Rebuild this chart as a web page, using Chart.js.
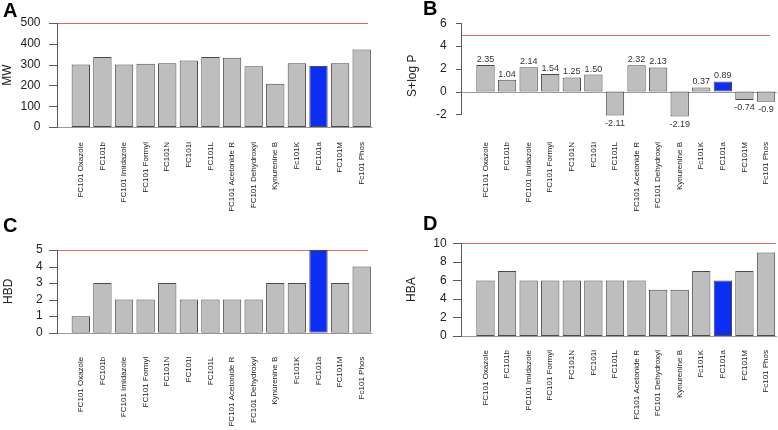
<!DOCTYPE html>
<html>
<head>
<meta charset="utf-8">
<script src="https://cdn.jsdelivr.net/npm/chart.js@4.4.1/dist/chart.umd.min.js"></script>
<style>
  body { margin: 0; background: #fff; }
  #wrap { position: relative; width: 778px; height: 430px; overflow: hidden; }
  .panel { position: absolute; }
</style>
</head>
<body>
<div id="wrap">
  <canvas class="panel" id="cA" width="390" height="215" style="left:0;top:0"></canvas>
  <canvas class="panel" id="cB" width="388" height="215" style="left:390px;top:0"></canvas>
  <canvas class="panel" id="cC" width="390" height="215" style="left:0;top:215px"></canvas>
  <canvas class="panel" id="cD" width="388" height="215" style="left:390px;top:215px"></canvas>
</div>
<script>
const categories = [
  "FC101 Oxazole", "FC101b", "FC101 Imidazole", "FC101 Formyl", "FC101N",
  "FC101i", "FC101L", "FC101 Acetonide R", "FC101 Dehydroxyl", "Kynurenine B",
  "Fc101K", "FC101a", "FC101M", "Fc101 Phos",
];
const highlight = "FC101a";

const mwValues = [301, 336, 300, 304, 307, 320, 336, 333, 292, 208, 307, 293, 307, 373];
const logPValues = [2.35, 1.04, 2.14, 1.54, 1.25, 1.5, -2.11, 2.32, 2.13, -2.19, 0.37, 0.89, -0.74, -0.9];
const logPLabels = ["2.35", "1.04", "2.14", "1.54", "1.25", "1.50", "-2.11", "2.32", "2.13", "-2.19", "0.37", "0.89", "-0.74", "-0.9"];
const hbdValues = [1, 3, 2, 2, 3, 2, 2, 2, 2, 3, 3, 5, 3, 4];
const hbaValues = [6, 7, 6, 6, 6, 6, 6, 6, 5, 5, 7, 6, 7, 9];

const mwTicks = [0, 100, 200, 300, 400, 500];
const logPTicks = [-2, 0, 2, 4, 6];
const hbdTicks = [0, 1, 2, 3, 4, 5];
const hbaTicks = [0, 2, 4, 6, 8, 10];

// Lipinski limits
const mwLimit = 500;
const logPLimit = 5;
const hbdLimit = 5;
const hbaLimit = 10;

const FONT = "'Liberation Sans', Arial, sans-serif";
const GRAY = "#bebebe";
const BLUE = "#0b2df4";

// R-style axis line, limit line, zero line, panel letter, value labels
function rStyle(r, ticks) {
  return {
    id: "rStyle",
    beforeDatasetsDraw(chart) {
      const { ctx, chartArea } = chart;
      const y = chart.scales.y;
      const px = (v) => Math.round(y.getPixelForValue(v));
      ctx.save();
      ctx.fillStyle = "#9a9a9a";
      ctx.fillRect(r.axisX, px(0), chartArea.right - r.axisX, 1);
      ctx.fillStyle = "#e06a6a";
      ctx.fillRect(r.axisX, px(r.limit), r.limitRight - r.axisX, 1);

      // y axis line with tick marks
      const top = px(ticks[ticks.length - 1]);
      const bot = px(ticks[0]);
      ctx.fillStyle = "#5a5a5a";
      ctx.fillRect(r.axisX, top, 1, bot - top + 1);
      for (const v of ticks) {
        ctx.fillRect(r.axisX - r.tickLen, px(v), r.tickLen, 1);
      }
      ctx.restore();
    },
    afterDraw(chart) {
      const { ctx } = chart;
      ctx.save();
      ctx.fillStyle = "#000";
      ctx.font = "bold 20px " + FONT;
      ctx.textBaseline = "alphabetic";
      ctx.textAlign = "left";
      ctx.fillText(r.letter, r.letterX, r.letterY);

      if (r.labels) {
        const meta = chart.getDatasetMeta(0);
        const data = chart.data.datasets[0].data;
        ctx.font = "9px " + FONT;
        ctx.fillStyle = "#333";
        ctx.textAlign = "center";
        meta.data.forEach((bar, i) => {
          if (data[i] >= 0) {
            ctx.textBaseline = "bottom";
            ctx.fillText(r.labels[i], bar.x, bar.y - 1);
          } else {
            ctx.textBaseline = "top";
            ctx.fillText(r.labels[i], bar.x, bar.y + 3);
          }
        });
      }
      ctx.restore();
    },
  };
}

function panel(id, values, ticks, title, p) {
  const colors = categories.map((c) => (c === highlight ? BLUE : GRAY));
  return new Chart(document.getElementById(id), {
    type: "bar",
    data: {
      labels: categories,
      datasets: [
        {
          data: values,
          backgroundColor: colors,
          borderColor: "#4a4a4a",
          borderWidth: 1,
          borderSkipped: false,
          barPercentage: 0.85,
          categoryPercentage: 1,
        },
      ],
    },
    options: {
      responsive: false,
      animation: false,
      events: [],
      layout: { padding: { left: 0, right: p.padRight, top: p.top, bottom: 0 } },
      plugins: {
        legend: { display: false },
        tooltip: { enabled: false },
      },
      scales: {
        x: {
          grid: { display: false, drawTicks: false },
          border: { display: false },
          ticks: {
            autoSkip: false,
            minRotation: 90,
            maxRotation: 90,
            padding: p.xPad,
            color: "#222",
            font: { family: FONT, size: 8 },
          },
          afterFit: (s) => {
            s.height = p.xHeight;
            s.paddingLeft = 0;
            s.paddingRight = 0;
          },
        },
        y: {
          min: p.min,
          max: p.max,
          grid: { display: false, drawTicks: false },
          border: { display: false },
          afterBuildTicks: (s) => {
            s.ticks = ticks.map((v) => ({ value: v }));
          },
          ticks: {
            autoSkip: false,
            padding: p.yPad,
            color: "#222",
            font: { family: FONT, size: 12 },
          },
          title: {
            display: true,
            text: title,
            color: "#222",
            font: { family: FONT, size: 12 },
            padding: { top: p.titlePad, bottom: 0 },
          },
          afterFit: (s) => {
            s.width = p.yWidth;
            s.paddingTop = 0;
            s.paddingBottom = 0;
          },
        },
      },
    },
    plugins: [rStyle(p.r, ticks)],
  });
}

panel("cA", mwValues, mwTicks, "MW", {
  min: 0, max: 500, top: 23, xHeight: 88, xPad: 15, padRight: 17.5,
  yWidth: 70, yPad: 29.5, titlePad: 0,
  r: { axisX: 57, tickLen: 8, limit: mwLimit, limitRight: 368, letter: "A", letterX: 3, letterY: 17 },
});

panel("cB", logPValues, logPTicks, "S+log P", {
  min: -3.2, max: 6, top: 23.4, xHeight: 87, xPad: 14, padRight: 1.2,
  yWidth: 84.7, yPad: 28, titlePad: 15,
  r: { axisX: 71, tickLen: 5, limit: logPLimit, limitRight: 380, letter: "B", letterX: 33, letterY: 15, labels: logPLabels },
});

panel("cC", hbdValues, hbdTicks, "HBD", {
  min: 0, max: 5, top: 35, xHeight: 97.3, xPad: 24, padRight: 17.5,
  yWidth: 70, yPad: 27.3, titlePad: 1,
  r: { axisX: 57, tickLen: 8, limit: hbdLimit, limitRight: 368, letter: "C", letterX: 3, letterY: 17 },
});

panel("cD", hbaValues, hbaTicks, "HBA", {
  min: 0, max: 10, top: 28.3, xHeight: 94, xPad: 14, padRight: 1.2,
  yWidth: 84.7, yPad: 28, titlePad: 14,
  r: { axisX: 71, tickLen: 8, limit: hbaLimit, limitRight: 386, letter: "D", letterX: 33, letterY: 15 },
});
</script>
</body>
</html>
